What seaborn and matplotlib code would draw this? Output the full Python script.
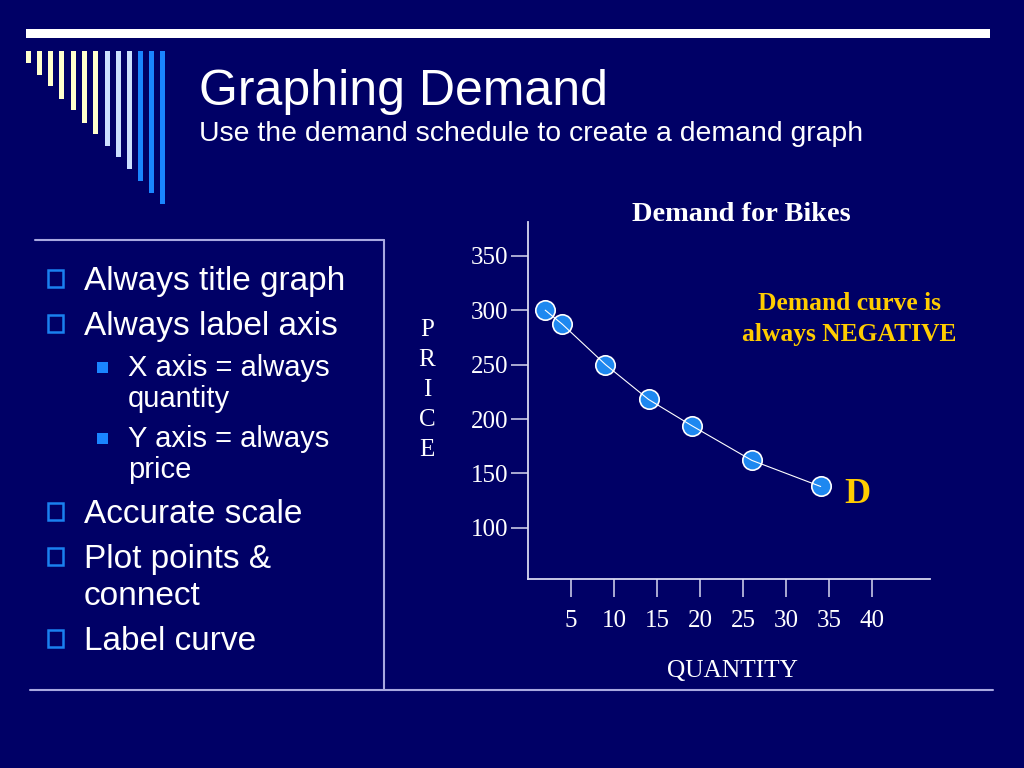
import matplotlib
matplotlib.use("Agg")
import matplotlib.pyplot as plt
from matplotlib.patches import Rectangle
import seaborn as sns
import pandas as pd

# demand schedule
quantity = [2, 4, 9, 14, 19, 26, 34]
price = [300, 287, 250, 218, 194, 162, 138]

x_ticks = [5, 10, 15, 20, 25, 30, 35, 40]
y_ticks = [100, 150, 200, 250, 300, 350]

# (first line, continuation) for each bullet
bullets = [("Always title graph", ""), ("Always label axis", ""),
           ("Accurate scale", ""), ("Plot points &", "connect"),
           ("Label curve", "")]
sub_bullets = [("X axis = always", "quantity"), ("Y axis = always", "price")]

BG = "#000066"
GOLD = "#FFCC00"
DOT = "#1E88F0"
RULE = "#A8A8E0"
SANS = "Liberation Sans"
SERIF = "Liberation Serif"

sns.set_theme(style="white")
plt.rcParams["font.family"] = [SANS, "DejaVu Sans"]

fig = plt.figure(figsize=(10.24, 7.68), dpi=100, facecolor=BG)

# full-figure overlay in pixel units for slide decoration and text
deco = fig.add_axes([0, 0, 1, 1], zorder=0)
deco.set_xlim(0, 1024)
deco.set_ylim(768, 0)
deco.axis("off")

# top bar and the descending stripes
deco.add_patch(Rectangle((26, 29), 964, 9, color="white", lw=0))
stripe_left = [26, 37, 48, 59, 71, 82, 93, 105, 116, 127, 138, 149, 160]
stripe_bottom = [63, 75, 86, 99, 110, 123, 134, 146, 157, 169, 181, 193, 204]
stripe_color = ["#FFFFCC"] * 7 + ["#CCE0FF"] * 3 + ["#1A85FF"] * 3
for xl, yb, c in zip(stripe_left, stripe_bottom, stripe_color):
    deco.add_patch(Rectangle((xl, 51), 5, yb - 51, color=c, lw=0))

# box rules
deco.plot([35, 384], [240, 240], color=RULE, lw=1.5)
deco.plot([384, 384], [240, 690], color=RULE, lw=1.5)
deco.plot([30, 993], [690, 690], color=RULE, lw=1.5)

# titles
deco.text(199, 105, "Graphing Demand", color="white", fontsize=36,
          family=SANS, va="baseline")
deco.text(199, 141, "Use the demand schedule to create a demand graph",
          color="white", fontsize=20.4, family=SANS, va="baseline")

# bullet list
bullet_base = [290, 335, 523, 568, 650]
for (first, second), yb in zip(bullets, bullet_base):
    deco.add_patch(Rectangle((48, yb - 20), 15, 17, fill=False,
                             ec="#1A80F0", lw=1.8))
    deco.text(84, yb, first, color="white", fontsize=24, family=SANS,
              va="baseline")
    if second:
        deco.text(84, yb + 37, second, color="white", fontsize=24,
                  family=SANS, va="baseline")
sub_base = [376, 447]
for (first, second), yb in zip(sub_bullets, sub_base):
    deco.add_patch(Rectangle((97, yb - 14), 11, 11, color="#1A85FF", lw=0))
    deco.text(128, yb, first, color="white", fontsize=21, family=SANS,
              va="baseline")
    deco.text(128, yb + 31, second, color="white", fontsize=21,
              family=SANS, va="baseline")

# chart texts
deco.text(741, 221, "Demand for Bikes", color="white", fontsize=20.4,
          family=SERIF, weight="bold", ha="center", va="baseline")
deco.text(849, 310, "Demand curve is", color=GOLD, fontsize=18.4,
          family=SERIF, weight="bold", ha="center", va="baseline")
deco.text(849, 341, "always NEGATIVE", color=GOLD, fontsize=18.4,
          family=SERIF, weight="bold", ha="center", va="baseline")
deco.text(857, 503, "D", color=GOLD, fontsize=26, family=SERIF,
          weight="bold", ha="center", va="baseline")
deco.text(427, 390, "P\nR\nI\nC\nE", color="white", fontsize=18,
          family=SERIF, ha="center", va="center", linespacing=1.48)
deco.text(733, 677, "QUANTITY", color="white", fontsize=18.3,
          family=SERIF, ha="center", va="baseline")

# the graph itself
ax = fig.add_axes([528 / 1024, 1 - 579 / 768, 402 / 1024, 357 / 768], zorder=1)
ax.set_facecolor("none")
df = pd.DataFrame({"quantity": quantity, "price": price})
sns.scatterplot(data=df, x="quantity", y="price", ax=ax, s=195, color=DOT,
                edgecolor="white", linewidth=1.2, zorder=2, clip_on=False)
sns.lineplot(data=df, x="quantity", y="price", ax=ax, color="white",
             lw=0.8, zorder=3, sort=False)

ax.set_xlim(0, 46.7)
ax.set_ylim(53, 381)
ax.set_xlabel("")
ax.set_ylabel("")
for side in ["top", "right"]:
    ax.spines[side].set_visible(False)
for side in ["left", "bottom"]:
    ax.spines[side].set_color("#D8D8F0")
    ax.spines[side].set_linewidth(1.3)

ax.set_xticks(x_ticks)
ax.set_yticks(y_ticks)
ax.set_xticks(x_ticks, minor=True)
ax.set_yticks(y_ticks, minor=True)
ax.set_xticklabels([str(v) for v in x_ticks], family=SERIF, fontsize=18,
                   color="white")
ax.set_yticklabels([str(v) for v in y_ticks], family=SERIF, fontsize=18,
                   color="white")
ax.tick_params(axis="y", which="major", direction="out", length=12,
               width=1.1, color="#D8D8F0", pad=2, left=True)
ax.tick_params(axis="y", which="minor", direction="in", length=6,
               width=1.1, color="#D8D8F0", left=True)
ax.tick_params(axis="x", which="major", direction="out", length=13,
               width=1.1, color="#D8D8F0", pad=9, bottom=True)
ax.tick_params(axis="x", which="minor", direction="in", length=11.5,
               width=1.1, color="#D8D8F0", bottom=True)
ax.grid(False)

fig.savefig("out.png", dpi=100, facecolor=BG)
plt.close(fig)
